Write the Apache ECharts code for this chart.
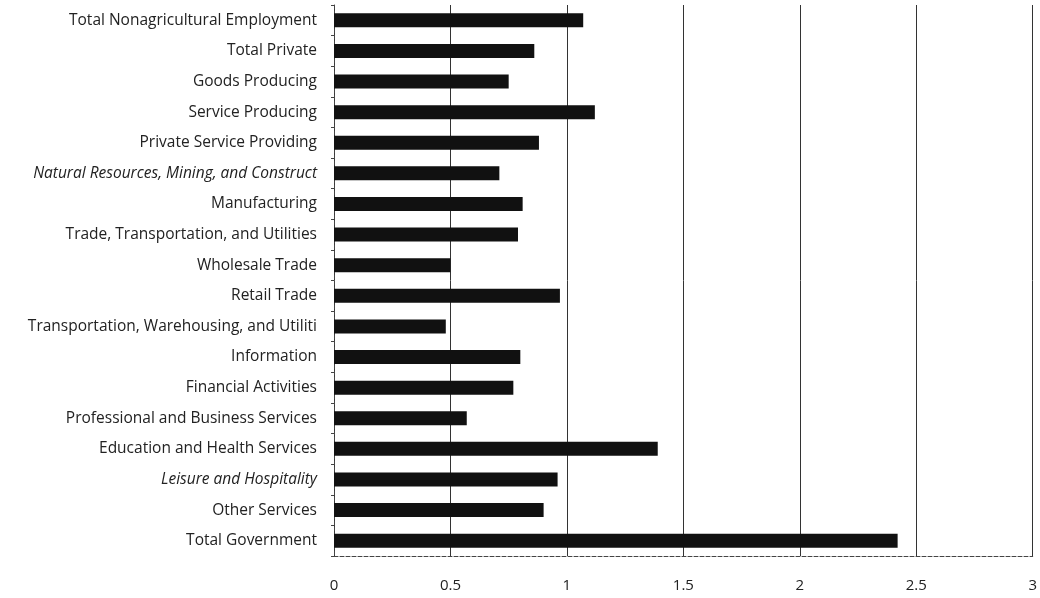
<!DOCTYPE html>
<html><head><meta charset="utf-8">
<script src="https://cdn.jsdelivr.net/npm/echarts@6/dist/echarts.min.js"></script>
<style>html,body{margin:0;padding:0;background:#fff}#c{width:1040px;height:598px}</style>
</head><body><div id="c"></div>
<script>
const categories = [
  "Total Nonagricultural Employment",
  "Total Private",
  "Goods Producing",
  "Service Producing",
  "Private Service Providing",
  "Natural Resources, Mining, and Construct",
  "Manufacturing",
  "Trade, Transportation, and Utilities",
  "Wholesale Trade",
  "Retail Trade",
  "Transportation, Warehousing, and Utiliti",
  "Information",
  "Financial Activities",
  "Professional and Business Services",
  "Education and Health Services",
  "Leisure and Hospitality",
  "Other Services",
  "Total Government"
];
const values = [1.07, 0.86, 0.75, 1.12, 0.88, 0.71, 0.81, 0.79, 0.50, 0.97, 0.48, 0.80, 0.77, 0.57, 1.39, 0.96, 0.90, 2.42];
const italicLabels = ["Natural Resources, Mining, and Construct", "Leisure and Hospitality"];

const chart = echarts.init(document.getElementById('c'));
chart.setOption({
  backgroundColor: '#fff',
  animation: false,
  grid: { left: 334, right: 2, top: 5, bottom: 42, containLabel: false },
  xAxis: {
    type: 'value', min: 0, max: 3, interval: 0.5,
    axisLine: { show: true, lineStyle: { color: '#444', type: 'dashed', width: 1 } },
    axisTick: { show: false },
    axisLabel: { color: '#222', fontFamily: 'Open Sans', fontSize: 15, margin: 22 },
    splitLine: { show: true, lineStyle: { color: '#333', width: 1 } }
  },
  yAxis: {
    type: 'category', data: categories, inverse: true,
    axisLine: { show: true, lineStyle: { color: '#444', type: 'dashed', width: 1 } },
    axisTick: { show: true, length: 3, lineStyle: { color: '#444' } },
    axisLabel: {
      color: '#222', fontFamily: 'Open Sans', fontSize: 15.5, margin: 17,
      formatter: v => italicLabels.includes(v) ? '{i|' + v + '}' : v,
      rich: { i: { fontStyle: 'italic', fontFamily: 'Open Sans', fontSize: 15.5, color: '#222' } }
    }
  },
  series: [{
    type: 'bar', data: values, barWidth: 14,
    itemStyle: { color: '#111' }
  }]
});
</script></body></html>
